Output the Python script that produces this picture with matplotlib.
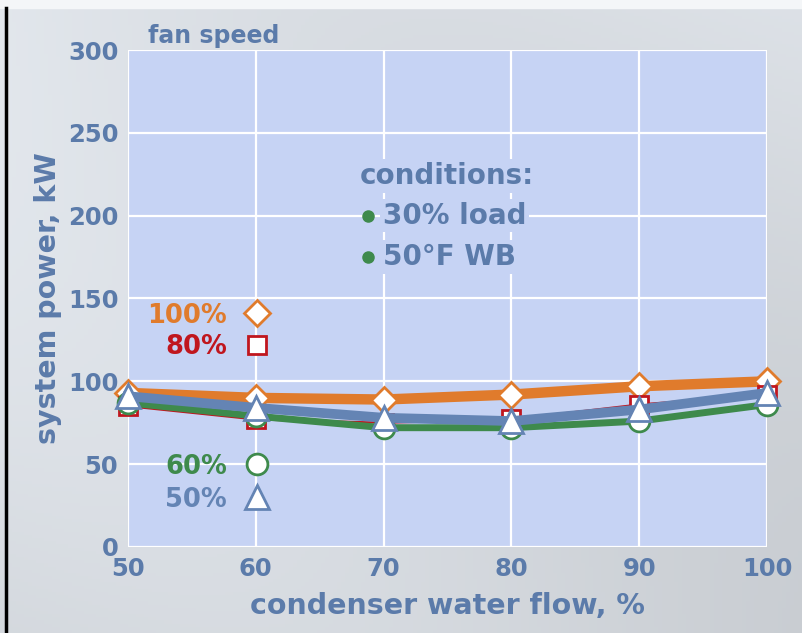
import matplotlib
matplotlib.use("Agg")
import matplotlib.pyplot as plt
import numpy as np

# ---- data ----
flow = [50, 60, 70, 80, 90, 100]
fan100 = [93, 90, 89, 92, 97, 100]
fan80 = [85, 77, 75, 77, 86, 92]
fan60 = [87, 79, 72, 72, 76, 86]
fan50 = [91, 84, 78, 76, 83, 93]
x_ticks = [50, 60, 70, 80, 90, 100]
y_ticks = [0, 50, 100, 150, 200, 250, 300]
legend_labels = ["100%", "80%", "60%", "50%"]
legend_y = [141, 122, 50, 30]
conditions = ["conditions:", "30% load", "50°F WB"]

TXT = "#5B7BAA"
ORANGE = "#E07B2C"
RED = "#C0161E"
GREEN = "#3E8A4C"
BLUE = "#6484B4"
PLOTBG = "#C6D3F4"

plt.rcParams['font.family'] = ['DejaVu Sans']

fig = plt.figure(figsize=(8.02, 6.33), dpi=100)
# background gradient
bg = fig.add_axes([0, 0, 1, 1], zorder=-10)
g = np.linspace(0, 1, 200)
X, Y = np.meshgrid(g, g)
img = 0.855 + 0.05 * Y - 0.03 * X + 0.02 * np.sin(4 * X + 3 * Y)
rgb = np.dstack([img * 0.975, img * 0.995, img * 1.02])
rgb = np.clip(rgb, 0, 1)
bg.imshow(rgb, extent=[0, 1, 0, 1], aspect='auto', origin='lower')
bg.fill_between([0, 1], 0.987, 1.0, color="#F4F6F8")
bg.plot([0.0075, 0.0075], [0, 0.987], color="black", lw=2.5)
bg.set_xlim(0, 1); bg.set_ylim(0, 1)
bg.axis('off')

ax = fig.add_axes([0.1596, 0.1359, 0.7968, 0.7851])
ax.set_facecolor(PLOTBG)
ax.set_xlim(50, 100)
ax.set_ylim(0, 300)
ax.set_xticks(x_ticks)
ax.set_yticks(y_ticks)
ax.grid(True, color="white", lw=1.6)
ax.set_axisbelow(True)
for s in ax.spines.values():
    s.set_visible(False)
ax.tick_params(length=0, colors=TXT, labelsize=17.5, pad=7)
for lab in ax.get_xticklabels() + ax.get_yticklabels():
    lab.set_fontweight('bold')
    lab.set_color(TXT)
ax.set_xlabel("condenser water flow, %", fontsize=20.5, fontweight='bold', color=TXT, labelpad=8)
ax.set_ylabel("system power, kW", fontsize=20.5, fontweight='bold', color=TXT, labelpad=4)

series = [
    (fan100, ORANGE, 'D', 7.5, 13),
    (fan80, RED, 's', 1.6, 13),
    (fan60, GREEN, 'o', 5, 15),
    (fan50, BLUE, '^', 7, 17),
]
for i, (vals, col, mk, lw, ms) in enumerate(series):
    ax.plot(flow, vals, color=col, lw=lw, marker=mk, ms=ms, mfc="white",
            mec=col, mew=2, zorder=3 + i, clip_on=False)

# manual legend
leg_cols = [ORANGE, RED, GREEN, BLUE]
leg_mk = [('D', 13), ('s', 13), ('o', 15), ('^', 17)]
for lab, yv, col, (mk, ms) in zip(legend_labels, legend_y, leg_cols, leg_mk):
    ax.text(57.75, yv - 1.5, lab, ha='right', va='center', fontsize=18.5, fontweight='bold', color=col)
    ax.plot([60.1], [yv], marker=mk, ms=ms, mfc='white', mec=col, mew=2, ls='none', zorder=10)

# conditions box
ax.text(68.15, 224, conditions[0], ha='left', va='center', fontsize=20, fontweight='bold',
        color=TXT, bbox=dict(facecolor=PLOTBG, edgecolor='none', pad=2))
for yv, t in zip([200, 175], conditions[1:]):
    ax.plot([68.8], [yv], marker='o', ms=8, color=GREEN, ls='none', zorder=10)
    ax.text(69.95, yv, t, ha='left', va='center', fontsize=20, fontweight='bold',
            color=TXT, bbox=dict(facecolor=PLOTBG, edgecolor='none', pad=2))

fig.text(148 / 802, 1 - 36 / 633, "fan speed", ha='left', va='center', fontsize=17,
         fontweight='bold', color=TXT)

fig.savefig("out.png", dpi=100)
